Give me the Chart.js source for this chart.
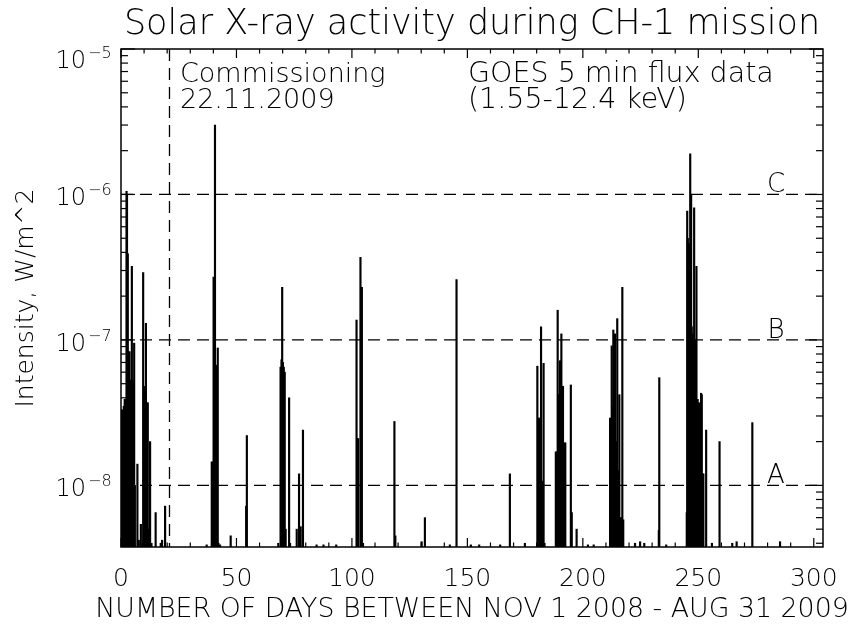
<!DOCTYPE html>
<html>
<head>
<meta charset="utf-8">
<script src="https://cdn.jsdelivr.net/npm/chart.js@4.4.0/dist/chart.umd.min.js"></script>
<style>
  html, body { margin: 0; padding: 0; background: #fff; }
</style>
</head>
<body>
<canvas id="fluxChart" width="857" height="625"></canvas>
<script>
// Jours depuis le 1er nov 2008 et pics de flux GOES (W/m^2)
const days = [
  0.2, 0.7, 1.2, 1.6, 2.0, 2.4, 2.6, 2.75, 2.9, 3.3, 3.7, 4.2, 4.7, 5.0, 5.3, 5.7, 6.0, 7.1, 7.7, 8.6,
  9.4, 9.6, 9.9, 10.3, 10.8, 11.1, 11.6, 12.0, 12.6, 13.2, 15.0, 17.2, 17.8, 19.1,
  37.1, 39.3, 39.7, 40.1, 40.5, 40.7, 41.0, 41.4, 41.9, 42.2, 42.9, 47.5, 54.2, 54.5,
  68.1, 69.1, 69.5, 69.8, 70.1, 70.5, 70.9, 71.3, 72.8, 73.2, 76.1, 77.1, 77.8, 78.8, 84.7, 87.7, 93.2,
  102.0, 102.3, 102.7, 103.7, 104.0, 104.3, 104.8, 118.4, 118.8, 130.2, 131.6, 142.4, 145.3,
  151.5, 155.1, 164.2, 168.4, 174.9,
  180.3, 180.7, 181.1, 181.6, 181.9, 182.3, 183.0, 183.4,
  188.3, 188.7, 189.1, 189.5, 189.8, 190.1, 190.4, 190.7, 191.0, 191.4, 192.0, 192.4,
  194.8, 195.2, 197.3, 202.2, 204.7,
  211.8, 212.2, 212.5, 212.9, 213.2, 213.6, 213.9, 214.3, 214.6, 214.9, 215.4, 215.8,
  216.3, 216.7, 217.1, 217.5, 222.6, 224.8, 226.6, 232.9, 233.1, 236.1,
  245.0, 245.2, 245.45, 245.7, 245.95, 246.2, 246.5, 246.75, 246.9, 247.15, 247.4, 247.65,
  247.9, 248.2, 248.45, 248.7, 248.95, 249.2, 249.45, 249.7, 250.0, 250.3, 250.7, 251.2,
  251.5, 251.9, 252.2, 253.4,
  255.9, 259.2, 264.7, 266.6, 273.4, 285.4,
];
const flux = [
  3.3e-8, 3.3e-8, 3.5e-8, 3.9e-8, 3.9e-8, 1.05e-6, 1.0e-6, 3.9e-7, 3.9e-7, 8.3e-8, 8.3e-8, 5.3e-8, 3.2e-7, 5.3e-8, 5.0e-8, 9.5e-8, 1.0e-8, 1.4e-8, 4.2e-9, 5.4e-9,
  4.0e-9, 2.9e-7, 4.8e-8, 4.8e-8, 1.3e-7, 3.7e-8, 3.7e-8, 5.0e-9, 2.0e-8, 4.0e-9, 6.5e-9, 4.0e-9, 4.2e-9, 7.2e-9,
  3.9e-9, 1.45e-8, 1.45e-8, 2.7e-7, 6.7e-8, 3.0e-6, 6.7e-8, 6.7e-8, 8.8e-8, 4.0e-9, 3.9e-9, 4.5e-9, 7.2e-9, 2.2e-8,
  4.0e-9, 6.5e-8, 7.3e-8, 2.3e-7, 7.0e-8, 6.5e-8, 6.0e-8, 5.0e-9, 4.0e-8, 4.0e-9, 5.0e-9, 1.2e-8, 5.2e-9, 2.4e-8, 3.9e-9, 3.9e-9, 3.9e-9,
  1.37e-7, 2.1e-8, 2.1e-8, 3.7e-7, 2.3e-7, 2.3e-7, 4.0e-9, 2.75e-8, 4.5e-9, 4.1e-9, 6.0e-9, 3.9e-9, 2.6e-7,
  3.9e-9, 3.9e-9, 3.9e-9, 1.2e-8, 4.0e-9,
  6.6e-8, 2.9e-8, 2.9e-8, 2.9e-8, 1.23e-7, 1.07e-8, 6.9e-8, 4.0e-9,
  1.7e-8, 1.7e-8, 1.6e-7, 4.2e-8, 4.2e-8, 7.2e-8, 4.5e-8, 1.1e-7, 4.8e-8, 4.8e-8, 1.96e-8, 1.96e-8,
  4.9e-8, 6.5e-9, 5.0e-9, 3.9e-9, 3.9e-9,
  2.9e-8, 2.9e-8, 9.1e-8, 3.5e-8, 1.17e-7, 4.0e-8, 1.1e-7, 2.0e-8, 1.5e-8, 1.4e-7, 1.26e-8, 4.2e-8,
  6.0e-9, 6.0e-9, 2.3e-7, 5.8e-9, 4.0e-9, 4.1e-9, 4.0e-9, 4.9e-9, 5.5e-8, 3.9e-9,
  6.5e-9, 7.7e-7, 5.0e-7, 4.6e-7, 4.6e-7, 4.6e-7, 1.9e-6, 1.2e-7, 1.0e-6, 1.23e-7, 1.1e-7, 1.0e-7,
  1.0e-7, 8.1e-7, 1.0e-7, 1.0e-7, 3.9e-8, 3.2e-7, 3.9e-8, 3.9e-8, 3.3e-8, 3.7e-8, 1.2e-8, 4.3e-8,
  4.2e-8, 1.2e-8, 1.2e-8, 2.4e-8,
  4.0e-9, 2.0e-8, 4.0e-9, 4.1e-9, 2.7e-8, 4.1e-9,
];

// Axes
const xMin = 0;
const xMax = 304;
const yMin = 3.77e-9;
const yMax = 1e-5;
const decades = [1e-8, 1e-7, 1e-6, 1e-5];
const decadeExp = ["8", "7", "6", "5"];
const xTitle = "NUMBER OF DAYS BETWEEN NOV 1 2008 - AUG 31 2009";

// Seuils de classe GOES
const classLevels = [1e-8, 1e-7, 1e-6];
const classNames = ["A", "B", "C"];
const commissioningDay = 21;

const FONT = '"DejaVu Sans", sans-serif';
const W = "200";

function line(ctx, x1, y1, x2, y2) {
  ctx.beginPath();
  ctx.moveTo(x1, y1);
  ctx.lineTo(x2, y2);
  ctx.stroke();
}

// Cadre, graduations internes, lignes pointillées et annotations
const overlay = {
  id: "overlay",
  afterDatasetsDraw(chart) {
    const { ctx, chartArea: a, scales } = chart;
    const x = scales.x;
    const y = scales.y;
    ctx.save();
    ctx.strokeStyle = "#000";
    ctx.fillStyle = "#000";

    // lignes A / B / C et mise en service
    ctx.lineWidth = 1.3;
    ctx.setLineDash([12, 7]);
    classLevels.forEach((v) => {
      const py = y.getPixelForValue(v);
      line(ctx, a.left, py, a.right, py);
    });
    const cx = x.getPixelForValue(commissioningDay);
    line(ctx, cx, a.top, cx, a.bottom);
    ctx.setLineDash([]);

    // cadre
    ctx.lineWidth = 1.5;
    ctx.strokeRect(a.left, a.top, a.right - a.left, a.bottom - a.top);

    // graduations x
    ctx.lineWidth = 1.2;
    for (let d = 0; d <= 300; d += 10) {
      const px = x.getPixelForValue(d);
      const len = d % 50 === 0 ? 9 : 4.5;
      line(ctx, px, a.bottom, px, a.bottom - len);
      line(ctx, px, a.top, px, a.top + len);
    }
    // graduations y
    for (let e = -9; e <= -5; e++) {
      for (let m = 1; m <= 9; m++) {
        const v = m * Math.pow(10, e);
        if (v < yMin || v > yMax * 1.0001) continue;
        const py = y.getPixelForValue(v);
        const len = m === 1 ? 14 : 7;
        line(ctx, a.left, py, a.left + len, py);
        line(ctx, a.right, py, a.right - len, py);
      }
    }

    // étiquettes y : 10^n
    ctx.textBaseline = "alphabetic";
    decades.forEach((v, i) => {
      const py = y.getPixelForValue(v);
      const shift = py - a.top < 5 ? 8 : 0;
      ctx.font = W + " 24px " + FONT;
      ctx.textAlign = "right";
      ctx.fillText("10", 86, py + 11 + shift);
      ctx.font = W + " 16px " + FONT;
      ctx.textAlign = "left";
      ctx.fillText("\u2212" + decadeExp[i], 88, py + 1 + shift);
    });

    // titre de l'axe x (sans compression de largeur)
    ctx.font = W + " 26.8px " + FONT;
    ctx.textAlign = "center";
    ctx.fillText(xTitle, (a.left + a.right) / 2, 617);

    // A, B, C
    ctx.font = W + " 26px " + FONT;
    classLevels.forEach((v, i) => {
      const py = y.getPixelForValue(v);
      ctx.fillText(classNames[i], 776, py - 2);
    });

    // annotations
    ctx.textAlign = "left";
    ctx.font = W + " 27px " + FONT;
    ctx.fillText("Commissioning", 180, 82);
    ctx.fillText("22.11.2009", 180, 108);
    ctx.font = W + " 28.5px " + FONT;
    ctx.fillText("GOES 5 min flux data", 468, 82);
    ctx.fillText("(1.55-12.4 keV)", 468, 108);
    ctx.restore();
  },
};

const ctx = document.getElementById("fluxChart");

new Chart(ctx, {
  type: "bar",
  data: {
    datasets: [
      {
        data: days.map((d, i) => ({ x: d, y: flux[i] })),
        backgroundColor: "#000",
        borderWidth: 0,
        barThickness: 1.5,
        grouped: false,
      },
    ],
  },
  options: {
    responsive: false,
    animation: false,
    devicePixelRatio: 1,
    layout: { padding: { left: 0, right: 34, top: 0, bottom: 0 } },
    plugins: {
      legend: { display: false },
      tooltip: { enabled: false },
      title: {
        display: true,
        fullSize: false,
        text: "Solar X-ray activity during CH-1 mission",
        color: "#000",
        font: { family: FONT, size: 35, weight: W },
        padding: { top: 4, bottom: 3 },
      },
    },
    scales: {
      x: {
        type: "linear",
        min: xMin,
        max: xMax,
        offset: false,
        grid: { display: false, drawTicks: false },
        border: { display: false },
        ticks: {
          stepSize: 50,
          includeBounds: false,
          autoSkip: false,
          maxRotation: 0,
          padding: 17,
          color: "#000",
          font: { family: FONT, size: 25, weight: W },
        },
        afterFit(scale) {
          scale.height = 78;
        },
      },
      y: {
        type: "logarithmic",
        min: yMin,
        max: yMax,
        grid: { display: false, drawTicks: false },
        border: { display: false },
        ticks: { display: false },
        title: {
          display: true,
          text: "Intensity, W/m^2",
          color: "#000",
          font: { family: FONT, size: 25, weight: W },
          padding: { top: 11, bottom: 0 },
        },
        afterFit(scale) {
          scale.width = 121;
        },
      },
    },
  },
  plugins: [overlay],
});
</script>
</body>
</html>
